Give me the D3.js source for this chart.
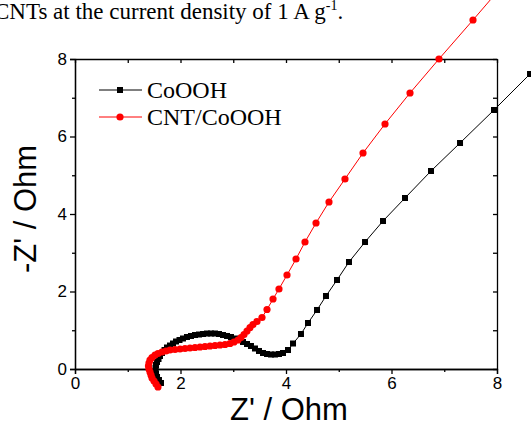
<!doctype html>
<html lang="en">
  <head>
    <meta charset="UTF-8" />
    <title>Nyquist plot CoOOH / CNT-CoOOH</title>
    <script src="https://unpkg.com/d3@7.9.0/dist/d3.min.js"></script>
    <style>
      body {
        margin: 0;
        background: #fff;
      }
      svg {
        display: block;
      }
      .axis path,
      .axis line {
        stroke: #000;
        stroke-width: 1.3px;
      }
      .axis text {
        font-family: 'Liberation Sans', Arial, sans-serif;
        font-size: 17px;
        fill: #000;
      }
    </style>
  </head>
  <body>
    <div id="chart"></div>
    <script>
      // Z' (x) and -Z'' (y), in Ohm
      const cooohX = [
        1.63, 1.592, 1.555, 1.536, 1.526, 1.526, 1.536, 1.555, 1.583, 1.611,
        1.649, 1.697, 1.744, 1.801, 1.858, 1.915, 1.981, 2.047, 2.123, 2.199,
        2.275, 2.351, 2.427, 2.502, 2.578, 2.654, 2.73, 2.806, 2.882, 2.957,
        3.033, 3.109, 3.185, 3.261, 3.336, 3.412, 3.488, 3.564, 3.64, 3.716,
        3.791, 3.867, 3.943, 4.038, 4.133, 4.284, 4.417, 4.588, 4.758, 4.967,
        5.194, 5.498, 5.839, 6.256, 6.749, 7.299, 7.943, 8.626, 9.346,
      ];
      const cooohY = [
        -0.361, -0.284, -0.206, -0.129, -0.052, 0.026, 0.103, 0.181, 0.258,
        0.335, 0.413, 0.49, 0.555, 0.606, 0.658, 0.71, 0.748, 0.787, 0.826,
        0.852, 0.877, 0.89, 0.903, 0.916, 0.916, 0.916, 0.903, 0.877, 0.852,
        0.826, 0.787, 0.748, 0.697, 0.645, 0.594, 0.529, 0.465, 0.413, 0.387,
        0.374, 0.374, 0.387, 0.413, 0.49, 0.658, 0.903, 1.187, 1.523, 1.884,
        2.297, 2.761, 3.277, 3.819, 4.413, 5.11, 5.832, 6.684, 7.613, 8.594,
      ];

      const cntX = [
        1.573, 1.536, 1.498, 1.46, 1.441, 1.422, 1.403, 1.393, 1.403, 1.422,
        1.46, 1.517, 1.573, 1.649, 1.725, 1.801, 1.896, 1.991, 2.085, 2.18,
        2.275, 2.37, 2.464, 2.559, 2.654, 2.749, 2.844, 2.938, 3.014, 3.09,
        3.147, 3.204, 3.261, 3.318, 3.374, 3.45, 3.545, 3.64, 3.754, 3.867,
        4.019, 4.19, 4.36, 4.569, 4.815, 5.118, 5.46, 5.877, 6.351, 6.9,
        7.545, 8.246,
      ];
      const cntY = [
        -0.465, -0.387, -0.31, -0.232, -0.155, -0.077, 0.0, 0.077, 0.155,
        0.232, 0.297, 0.361, 0.4, 0.439, 0.465, 0.49, 0.503, 0.516, 0.529,
        0.542, 0.555, 0.568, 0.581, 0.594, 0.606, 0.619, 0.632, 0.658, 0.697,
        0.748, 0.813, 0.89, 0.981, 1.071, 1.148, 1.226, 1.329, 1.535, 1.806,
        2.065, 2.426, 2.839, 3.277, 3.768, 4.31, 4.903, 5.574, 6.323, 7.123,
        8.0, 9.006, 10.116,
      ];

      const seriesNames = ['CoOOH', 'CNT/CoOOH'];
      const majorTicks = [0, 2, 4, 6, 8];
      const minorTicks = [1, 3, 5, 7];

      const W = 531;
      const H = 423;
      const plot = { left: 75, right: 497, top: 59, bottom: 369 };

      const svg = d3
        .select('#chart')
        .append('svg')
        .attr('width', W)
        .attr('height', H);

      const x = d3.scaleLinear().domain([0, 8]).range([plot.left, plot.right]);
      const y = d3.scaleLinear().domain([0, 8]).range([plot.bottom, plot.top]);

      // caption fragment cut at the top of the figure
      const cap = svg
        .append('text')
        .attr('x', -6)
        .attr('y', 19)
        .style('font-family', "'Liberation Serif', 'Times New Roman', serif")
        .style('font-size', '23px')
        .attr('fill', '#000');
      cap.append('tspan').text('CNTs at the current density of 1 A g');
      cap
        .append('tspan')
        .attr('dy', -9)
        .style('font-size', '14px')
        .text('-1');
      cap.append('tspan').attr('dy', 9).text('.');

      // axes: left/bottom ticks outward, top/right inward
      svg
        .append('g')
        .attr('class', 'axis')
        .attr('transform', `translate(0,${plot.bottom})`)
        .call(d3.axisBottom(x).tickValues(majorTicks).tickSize(5).tickPadding(3).tickFormat(d3.format('d')));
      svg
        .append('g')
        .attr('class', 'axis')
        .attr('transform', `translate(0,${plot.bottom})`)
        .call(d3.axisBottom(x).tickValues(minorTicks).tickSize(3).tickSizeOuter(0).tickFormat(''));
      svg
        .append('g')
        .attr('class', 'axis')
        .attr('transform', `translate(${plot.left},0)`)
        .call(d3.axisLeft(y).tickValues(majorTicks).tickSize(5).tickPadding(3).tickFormat(d3.format('d')));
      svg
        .append('g')
        .attr('class', 'axis')
        .attr('transform', `translate(${plot.left},0)`)
        .call(d3.axisLeft(y).tickValues(minorTicks).tickSize(3).tickSizeOuter(0).tickFormat(''));
      svg
        .append('g')
        .attr('class', 'axis')
        .attr('transform', `translate(0,${plot.top})`)
        .call(d3.axisTop(x).tickValues(d3.range(0, 9)).tickSize(-4).tickSizeOuter(0).tickFormat(''));
      svg
        .append('g')
        .attr('class', 'axis')
        .attr('transform', `translate(${plot.right},0)`)
        .call(d3.axisRight(y).tickValues(d3.range(0, 9)).tickSize(-4).tickSizeOuter(0).tickFormat(''));

      svg.selectAll('.axis .domain').attr('stroke-width', 1.5);

      const line = d3
        .line()
        .x((d) => x(d[0]))
        .y((d) => y(d[1]));

      const coooh = cooohX.map((v, i) => [v, cooohY[i]]);
      const cnt = cntX.map((v, i) => [v, cntY[i]]);

      // CoOOH: black squares
      svg
        .append('path')
        .datum(coooh)
        .attr('d', line)
        .attr('fill', 'none')
        .attr('stroke', '#000')
        .attr('stroke-width', 1);
      svg
        .append('g')
        .selectAll('rect')
        .data(coooh)
        .join('rect')
        .attr('x', (d) => x(d[0]) - 3)
        .attr('y', (d) => y(d[1]) - 3)
        .attr('width', 6)
        .attr('height', 6)
        .attr('fill', '#000');

      // CNT/CoOOH: red circles, drawn on top
      svg
        .append('path')
        .datum(cnt)
        .attr('d', line)
        .attr('fill', 'none')
        .attr('stroke', '#ff0000')
        .attr('stroke-width', 1);
      svg
        .append('g')
        .selectAll('circle')
        .data(cnt)
        .join('circle')
        .attr('cx', (d) => x(d[0]))
        .attr('cy', (d) => y(d[1]))
        .attr('r', 3.6)
        .attr('fill', '#ff0000');

      // legend
      const legend = svg.append('g');
      const legendRows = [
        { name: seriesNames[0], color: '#000', shape: 'square' },
        { name: seriesNames[1], color: '#ff0000', shape: 'circle' },
      ];
      legendRows.forEach((r, i) => {
        const cy = 90 + i * 27;
        legend
          .append('line')
          .attr('x1', 99)
          .attr('x2', 142)
          .attr('y1', cy)
          .attr('y2', cy)
          .attr('stroke', r.color)
          .attr('stroke-width', 1);
        if (r.shape === 'square') {
          legend
            .append('rect')
            .attr('x', 117)
            .attr('y', cy - 3)
            .attr('width', 6)
            .attr('height', 6)
            .attr('fill', r.color);
        } else {
          legend
            .append('circle')
            .attr('cx', 120)
            .attr('cy', cy)
            .attr('r', 3.6)
            .attr('fill', r.color);
        }
        legend
          .append('text')
          .attr('x', 147)
          .attr('y', cy + 8)
          .style('font-family', "'Liberation Serif', 'Times New Roman', serif")
          .style('font-size', '24px')
          .attr('fill', '#000')
          .text(r.name);
      });

      // axis titles
      svg
        .append('text')
        .attr('x', (plot.left + plot.right) / 2 + 3)
        .attr('y', 420)
        .attr('text-anchor', 'middle')
        .style('font-family', "'Liberation Sans', Arial, sans-serif")
        .style('font-size', '31px')
        .text("Z' / Ohm");
      svg
        .append('text')
        .attr('transform', `translate(36,${(plot.top + plot.bottom) / 2 - 5}) rotate(-90)`)
        .attr('text-anchor', 'middle')
        .style('font-family', "'Liberation Sans', Arial, sans-serif")
        .style('font-size', '31px')
        .text("-Z' / Ohm");
    </script>
  </body>
</html>
